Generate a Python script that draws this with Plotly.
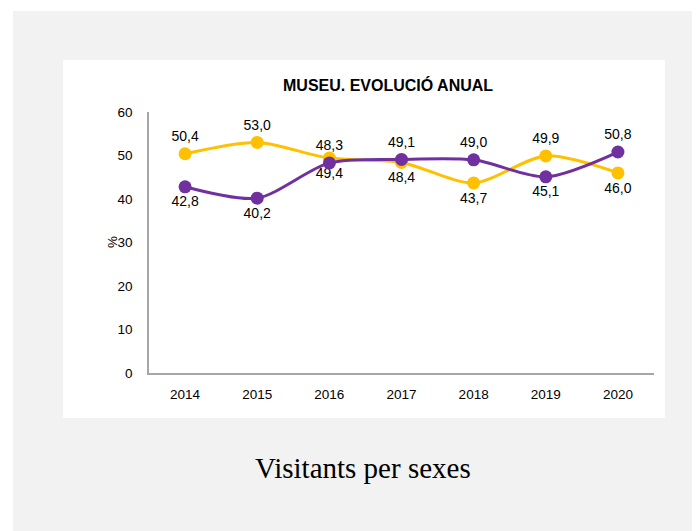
import plotly.graph_objects as go

years = ["2014", "2015", "2016", "2017", "2018", "2019", "2020"]
yellow_vals = [50.4, 53.0, 49.4, 48.4, 43.7, 49.9, 46.0]
purple_vals = [42.8, 40.2, 48.3, 49.1, 49.0, 45.1, 50.8]
yellow_pos = ["top center", "top center", "bottom center", "bottom center", "bottom center", "top center", "bottom center"]
purple_pos = ["bottom center", "bottom center", "top center", "top center", "top center", "bottom center", "top center"]
y_ticks = [0, 10, 20, 30, 40, 50, 60]

YELLOW = "#FFC000"
PURPLE = "#7030A0"
FONT = "Liberation Sans"

def fmt(v):
    return f"{v:.1f}".replace(".", ",")

fig = go.Figure()
for vals, col, pos in [(yellow_vals, YELLOW, yellow_pos), (purple_vals, PURPLE, purple_pos)]:
    fig.add_trace(go.Scatter(
        x=years, y=vals, mode="lines+markers+text",
        line=dict(color=col, width=3, shape="spline", smoothing=0.8),
        marker=dict(color=col, size=13),
        text=[fmt(v) for v in vals], textposition=pos,
        textfont=dict(family=FONT, size=14, color="#000000"),
        cliponaxis=False, showlegend=False,
    ))

OFF = 8
L, R, T, B = 149 - OFF, 654 - OFF, 112 - OFF, 373 - OFF
W, H = 700, 531
pw, ph = R - L, B - T

def px(x):
    return (x - OFF - L) / pw

def py(y):
    return (B - (y - OFF)) / ph

# gray page background (starts a little inset, as in the reference)
fig.add_shape(type="rect", xref="paper", yref="paper",
              x0=px(13), x1=px(712), y0=py(545), y1=py(11),
              fillcolor="#F2F2F2", line=dict(width=0), layer="below")
# white chart card
fig.add_shape(type="rect", xref="paper", yref="paper",
              x0=px(63), x1=px(665), y0=py(418), y1=py(60),
              fillcolor="white", line=dict(width=0), layer="below")

fig.add_annotation(text="<b>MUSEU. EVOLUCIÓ ANUAL</b>", xref="paper", yref="paper",
                   x=px(388), y=py(85), xanchor="center", yanchor="middle", showarrow=False,
                   font=dict(family=FONT, size=16, color="#000000"))
fig.add_annotation(text="%", xref="paper", yref="paper", x=px(112), y=py(242),
                   xanchor="center", yanchor="middle",
                   showarrow=False, textangle=-90,
                   font=dict(family=FONT, size=13.5, color="#000000"))
fig.add_annotation(text="Visitants per sexes", xref="paper", yref="paper",
                   x=px(363), y=py(468), xanchor="center", yanchor="middle", showarrow=False,
                   font=dict(family="Liberation Serif", size=29, color="#000000"))

fig.update_layout(
    width=W, height=H,
    margin=dict(l=L, r=W - R, t=T, b=H - B),
    paper_bgcolor="white", plot_bgcolor="rgba(0,0,0,0)",
    font=dict(family=FONT, size=13.5, color="#000000"),
    xaxis=dict(type="category", range=[-0.5, len(years) - 0.5], showgrid=False,
               showline=True, linecolor="#A6A6A6",
               linewidth=1.5, ticks="", tickfont=dict(size=13.5), zeroline=False,
               ticklabelstandoff=8),
    yaxis=dict(range=[0, 60], tickvals=y_ticks, showgrid=False, showline=True,
               linecolor="#A6A6A6", linewidth=1.5, ticks="", ticklen=0,
               tickfont=dict(size=13.5), zeroline=False, ticklabelstandoff=12),
)

fig.write_html("out.html")
